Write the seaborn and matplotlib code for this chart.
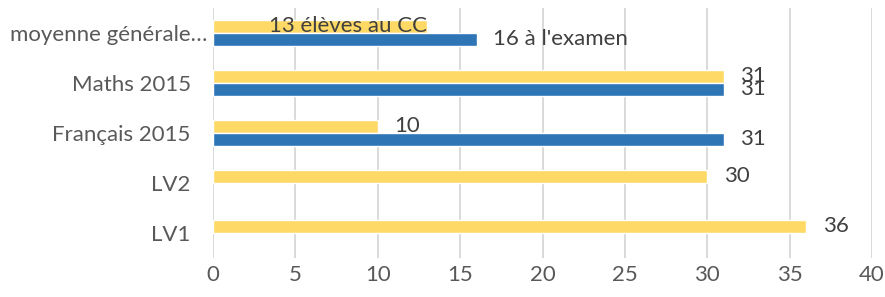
import matplotlib
matplotlib.use("Agg")
import matplotlib.pyplot as plt
import matplotlib.transforms as mtransforms
import numpy as np
import pandas as pd
import seaborn as sns

categories = ["moyenne générale…", "Maths 2015", "Français 2015", "LV2", "LV1"]
series = ["Contrôle continu", "Examen"]
cc_values = [13, 31, 10, 30, 36]
exam_values = [16, 31, 31, np.nan, np.nan]
cc_labels = ["13 élèves au CC", "31", "10", "30", "36"]
exam_labels = ["16 à l'examen", "31", "31", "", ""]
x_ticks = [0, 5, 10, 15, 20, 25, 30, 35, 40]

YELLOW = "#FFD966"
BLUE = "#2E75B6"
GRID = "#D9D9D9"
TICK_TXT = "#595959"
LABEL_TXT = "#404040"
FS = 16

rows = []
for cat, cc, ex in zip(categories, cc_values, exam_values):
    rows.append({"category": cat, "series": series[0], "value": cc})
    rows.append({"category": cat, "series": series[1], "value": ex})
df = pd.DataFrame(rows).dropna(subset=["value"])

sns.set_theme(style="white")
plt.rcParams["font.family"] = ["Lato", "DejaVu Sans"]

fig = plt.figure(figsize=(8.85, 2.97), dpi=100)
ax = fig.add_axes([213 / 885, 39 / 297, 659 / 885, 250 / 297])

sns.barplot(
    data=df, x="value", y="category", hue="series", order=categories,
    hue_order=series, palette=[YELLOW, BLUE], width=0.52, orient="h",
    saturation=1, legend=False, ax=ax,
)

ax.set_xlim(0, 40)
ax.set_xticks(x_ticks)
ax.set_xlabel("")
ax.set_ylabel("")
ax.grid(axis="x", color=GRID, linewidth=1.4)
ax.set_axisbelow(True)
for side in ["top", "right", "bottom", "left"]:
    ax.spines[side].set_visible(False)
ax.tick_params(axis="x", length=0, pad=5, labelsize=FS, labelcolor=TICK_TXT)
ax.tick_params(axis="y", length=0, pad=16, labelsize=FS, labelcolor=TICK_TXT)

# the long first label sits a bit further right in the original
first = ax.get_yticklabels()[0]
first.set_transform(first.get_transform() + mtransforms.ScaledTranslation(12 / 72, 0, fig.dpi_scale_trans))

# value labels
label_map = {series[0]: dict(zip(categories, cc_labels)),
             series[1]: dict(zip(categories, exam_labels))}
for container, name in zip(ax.containers, series):
    for bar in container:
        w = bar.get_width()
        if not np.isfinite(w):
            continue
        yc = bar.get_y() + bar.get_height() / 2
        cat = categories[int(round(yc))]
        text = label_map[name][cat]
        if not text:
            continue
        if name == series[0] and cat == categories[0]:
            ax.text(w, yc, text, ha="right", va="center", fontsize=FS, color=LABEL_TXT)
        else:
            ax.annotate(text, (w, yc), xytext=(12, 0), textcoords="offset points",
                        ha="left", va="center", fontsize=FS, color=LABEL_TXT)

fig.savefig("out.png", dpi=100)
